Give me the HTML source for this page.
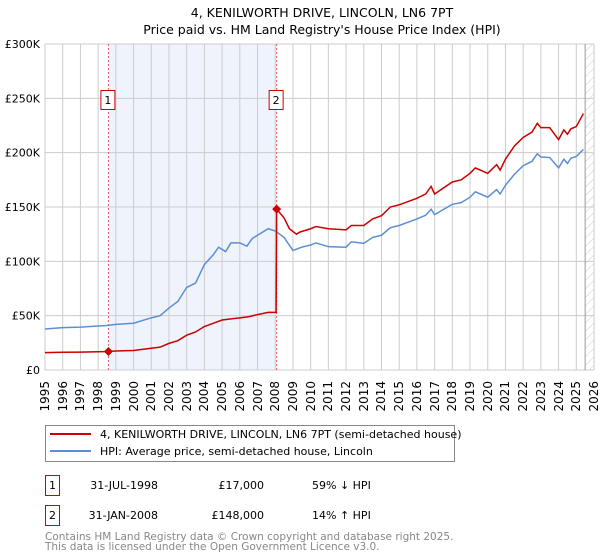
<!DOCTYPE html>
<html><head><meta charset="utf-8">
<style>
body{margin:0;background:#fff;font-family:"Liberation Sans","DejaVu Sans",sans-serif;}
#wrap{position:relative;width:600px;height:560px;}
#chart{position:absolute;left:0;top:0;}
svg text{font-family:"DejaVu Sans","Liberation Sans",sans-serif;}
.xl{position:absolute;top:381px;width:14px;font-family:"DejaVu Sans","Liberation Sans",sans-serif;font-size:12px;line-height:14px;writing-mode:vertical-rl;transform:rotate(180deg);color:#000;white-space:nowrap;}
</style></head>
<body>
<div id="wrap">
<svg id="chart" width="600" height="560" xmlns="http://www.w3.org/2000/svg">
<defs>
<pattern id="hatch" width="6" height="6" patternUnits="userSpaceOnUse" patternTransform="rotate(45)">
<line x1="0" y1="0" x2="0" y2="6" stroke="#ccc" stroke-width="1"/>
</pattern>
</defs>
<text x="322" y="17" text-anchor="middle" font-size="12.5" fill="#000">4, KENILWORTH DRIVE, LINCOLN, LN6 7PT</text>
<text x="322" y="34" text-anchor="middle" font-size="12.5" fill="#000">Price paid vs. HM Land Registry's House Price Index (HPI)</text>
<g id="plot"></g>
<g id="legend">
<rect x="45.5" y="425.5" width="409" height="36" fill="#fff" stroke="#888"/>
<line x1="50" y1="434" x2="91" y2="434" stroke="#cc0000" stroke-width="2"/>
<text x="100" y="438" font-size="11">4, KENILWORTH DRIVE, LINCOLN, LN6 7PT (semi-detached house)</text>
<line x1="50" y1="451" x2="91" y2="451" stroke="#5b8fd4" stroke-width="2"/>
<text x="100" y="455" font-size="11">HPI: Average price, semi-detached house, Lincoln</text>
</g>
<g>
<rect x="45.5" y="475.5" width="14" height="20" fill="#fff" stroke="#c00"/>
<text x="52.5" y="489" text-anchor="middle" font-size="11">1</text>
<text x="158" y="489" text-anchor="end" font-size="11">31-JUL-1998</text>
<text x="264" y="489" text-anchor="end" font-size="11">£17,000</text>
<text x="312" y="489" font-size="11">59% ↓ HPI</text>
<rect x="45.5" y="505.5" width="14" height="20" fill="#fff" stroke="#c00"/>
<text x="52.5" y="519" text-anchor="middle" font-size="11">2</text>
<text x="158" y="519" text-anchor="end" font-size="11">31-JAN-2008</text>
<text x="264" y="519" text-anchor="end" font-size="11">£148,000</text>
<text x="312" y="519" font-size="11">14% ↑ HPI</text>
</g>
<text x="45" y="540" font-size="10.5" fill="#888">Contains HM Land Registry data © Crown copyright and database right 2025.</text>
<text x="45" y="550" font-size="10.5" fill="#888">This data is licensed under the Open Government Licence v3.0.</text>
</svg>
</div>
<script>
const hpiYears=[1995,1996,1997,1998,1998.5,1999,2000,2001,2001.5,2002,2002.5,2003,2003.5,2004,2004.5,2004.8,2005.2,2005.5,2006,2006.4,2006.7,2007,2007.6,2008,2008.5,2009,2009.5,2010,2010.3,2011,2012,2012.3,2013,2013.5,2014,2014.5,2015,2016,2016.5,2016.8,2017,2018,2018.5,2019,2019.3,2020,2020.5,2020.7,2021,2021.5,2022,2022.5,2022.8,2023,2023.5,2024,2024.3,2024.5,2024.7,2025,2025.4];
const hpiValues=[37.7,39,39.5,40.5,41,42,43,48,50,57,63,76,80,97,106,113,109,117,117,114,121,124,130,128,122,110,113,115,117,113.5,113,118,116.5,122,124,131,133,139,142.5,148,143,152.5,154,159,164,159,166,162,170,180,188,192,199,196,195.5,186,194,190,195,196.5,203];
const priceYears=[1995,1996,1997,1998,1998.58,1999,2000,2001,2001.5,2002,2002.5,2003,2003.5,2004,2004.5,2005,2005.5,2006,2006.5,2007,2007.6,2008.05,2008.08,2008.5,2008.8,2009.2,2009.4,2010,2010.3,2011,2012,2012.3,2013,2013.5,2014,2014.5,2015,2016,2016.5,2016.8,2017,2018,2018.5,2019,2019.3,2020,2020.5,2020.7,2021,2021.5,2022,2022.5,2022.8,2023,2023.5,2024,2024.3,2024.5,2024.7,2025,2025.4];
const priceValues=[16,16.3,16.5,16.8,17,17.5,18,20,21,24.5,27,32,35,40,43,46,47,48,49,51,53,53,148,140,130,125,127,130,132,130,129,133,133,139,142,150,152,158,162,169,162,173,175,181,186,181,189,184,194,206,214,219,227,223,223,212,221,217,222,224,236];
const saleYears=[1998.58,2008.08];
const saleValues=[17,148];
const yTicks=[0,50,100,150,200,250,300];
const yTickLabels=["£0","£50K","£100K","£150K","£200K","£250K","£300K"];
const xTicks=[1995,1996,1997,1998,1999,2000,2001,2002,2003,2004,2005,2006,2007,2008,2009,2010,2011,2012,2013,2014,2015,2016,2017,2018,2019,2020,2021,2022,2023,2024,2025,2026];

const X0=45,X1=594,Y0=370,Y1=44;
const xs=y=>X0+(y-1995)*(X1-X0)/31;
const ys=v=>Y0-v*(Y0-Y1)/300;
const NS="http://www.w3.org/2000/svg";
const g=document.getElementById('plot');
const wrap=document.getElementById('wrap');
function mk(t,a){const e=document.createElementNS(NS,t);for(const k in a)e.setAttribute(k,a[k]);g.appendChild(e);return e;}

const band=mk('rect',{x:xs(saleYears[0]),y:Y1,width:xs(saleYears[1])-xs(saleYears[0]),height:Y0-Y1,fill:'#eef3fc'});


const hat=mk('rect',{x:xs(2025.5),y:Y1,width:X1-xs(2025.5),height:Y0-Y1,fill:'url(#hatch)'});



xTicks.forEach(t=>{
  const l=mk('line',{x1:xs(t),x2:xs(t),y1:Y1,y2:Y0,stroke:'#ccc','stroke-width':1});
  
  
  const d=document.createElement('div');
  d.className='xl';
  d.style.left=(xs(t)-7)+'px';
  d.textContent=t;
  
  
  wrap.appendChild(d);
});
yTicks.forEach((t,i)=>{
  const l=mk('line',{x1:X0,x2:X1,y1:ys(t),y2:ys(t),stroke:'#ccc','stroke-width':1});
  
  
  const tx=mk('text',{x:40,y:ys(t)+4,'font-size':11,'text-anchor':'end'});
  tx.textContent=yTickLabels[i];
  
  
});
const edge=mk('line',{x1:xs(2025.5),x2:xs(2025.5),y1:Y1,y2:Y0,stroke:'#999','stroke-width':1});



saleYears.forEach((s,i)=>{
  const l=mk('line',{x1:xs(s),x2:xs(s),y1:Y1,y2:Y0,stroke:'#e06060','stroke-width':1,'stroke-dasharray':'2,2'});
  
  
});

const hp=mk('polyline',{points:hpiYears.map((y,i)=>xs(y)+','+ys(hpiValues[i])).join(' '),fill:'none',stroke:'#5b8fd4','stroke-width':1.5});


const pp=mk('polyline',{points:priceYears.map((y,i)=>xs(y)+','+ys(priceValues[i])).join(' '),fill:'none',stroke:'#cc0000','stroke-width':1.5});



saleYears.forEach((s,i)=>{
  const cx=xs(s),cy=ys(saleValues[i]);
  const d=mk('polygon',{points:`${cx},${cy-4.5} ${cx+4.5},${cy} ${cx},${cy+4.5} ${cx-4.5},${cy}`,fill:'#cc0000'});
  
  
  const b=mk('rect',{x:cx-7.5,y:90.5,width:14,height:19,fill:'#fff',stroke:'#c00'});
  
  
  const t=mk('text',{x:cx-0.5,y:104,'font-size':11,'text-anchor':'middle'});
  t.textContent=String(i+1);
  
  
});
</script>
</body></html>
